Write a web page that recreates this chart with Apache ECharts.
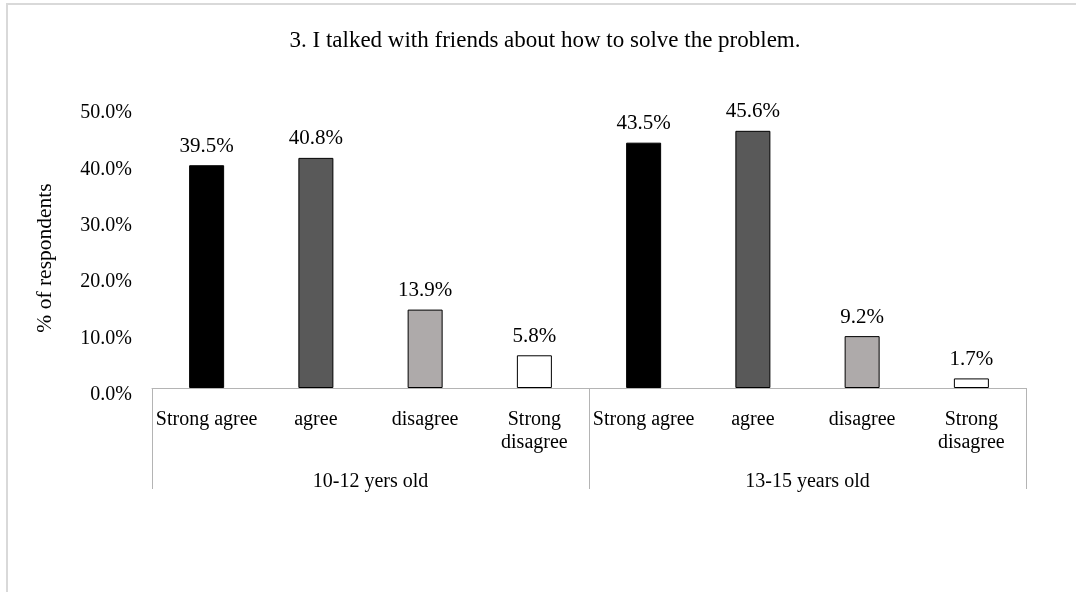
<!DOCTYPE html>
<html>
<head>
<meta charset="utf-8">
<script src="https://cdn.jsdelivr.net/npm/echarts@6/dist/echarts.min.js"></script>
<style>
  html, body { margin: 0; padding: 0; background: #ffffff; }
  #chart { width: 1076px; height: 592px; }
</style>
</head>
<body>
<div id="chart"></div>
<script>
// Survey responses, percentage of respondents per answer, by age group
const chartTitle = '3. I talked with friends about how to solve the problem.';
const axisName = '% of respondents';
const groups = ['10-12 yers old', '13-15 years old'];
const answers = ['Strong agree', 'agree', 'disagree', 'Strong disagree'];
const ages10to12 = [39.5, 40.8, 13.9, 5.8];
const ages13to15 = [43.5, 45.6, 9.2, 1.7];
const answerColors = ['#000000', '#595959', '#aeaaaa', '#ffffff'];

const FONT = '"Liberation Serif", "Times New Roman", serif';

// Flatten into one category per (group, answer) pair
const categories = [];
const values = [];
[ages10to12, ages13to15].forEach(function (vals) {
  answers.forEach(function (a, i) {
    categories.push(a);
    values.push({
      value: vals[i],
      itemStyle: { color: answerColors[i] }
    });
  });
});

const chart = echarts.init(document.getElementById('chart'), null, { renderer: 'canvas' });

chart.setOption({
  backgroundColor: '#ffffff',
  animation: false,
  graphic: [
    {
      type: 'rect',
      shape: { x: 7, y: 4, width: 1200, height: 700 },
      style: { fill: 'none', stroke: '#d9d9d9', lineWidth: 2 },
      silent: true
    },
    {
      type: 'text',
      x: 545,
      y: 41,
      style: {
        text: chartTitle,
        fontFamily: FONT,
        fontSize: 23,
        fill: '#000000',
        textAlign: 'center',
        textVerticalAlign: 'middle'
      }
    },
    {
      type: 'text',
      x: 45,
      y: 258,
      rotation: Math.PI / 2,
      style: {
        text: axisName,
        fontFamily: FONT,
        fontSize: 21.5,
        fill: '#000000',
        textAlign: 'center',
        textVerticalAlign: 'middle'
      }
    }
  ],
  grid: { left: 152, right: 50, top: 106, bottom: 204, containLabel: false },
  xAxis: [
    {
      type: 'category',
      data: categories,
      position: 'bottom',
      axisLine: { show: true, lineStyle: { color: '#b4b4b4', width: 1 } },
      axisTick: { show: false },
      axisLabel: {
        interval: 0,
        margin: 20,
        fontFamily: FONT,
        fontSize: 20,
        lineHeight: 23,
        color: '#000000',
        formatter: function (v) { return v === 'Strong disagree' ? 'Strong\ndisagree' : v; }
      }
    },
    {
      type: 'category',
      data: groups,
      position: 'bottom',
      axisLine: { show: false },
      axisTick: { show: true, length: 101, lineStyle: { color: '#b4b4b4', width: 1 } },
      axisLabel: {
        interval: 0,
        margin: 82,
        fontFamily: FONT,
        fontSize: 20,
        lineHeight: 23,
        color: '#000000'
      }
    }
  ],
  yAxis: {
    type: 'value',
    min: 0,
    max: 50,
    interval: 10,
    axisLine: { show: false },
    axisTick: { show: false },
    splitLine: { show: false },
    axisLabel: {
      margin: 20,
      fontFamily: FONT,
      fontSize: 20,
      color: '#000000',
      verticalAlign: 'top',
      lineHeight: 14,
      formatter: function (v) { return v.toFixed(1) + '%'; }
    }
  },
  series: [
    {
      type: 'bar',
      xAxisIndex: 0,
      data: values,
      barWidth: 35,
      itemStyle: { borderColor: '#000000', borderWidth: 1 },
      label: {
        show: true,
        position: 'top',
        distance: 9,
        fontFamily: FONT,
        fontSize: 21,
        lineHeight: 20,
        color: '#000000',
        formatter: function (p) { return p.value.toFixed(1) + '%'; }
      }
    }
  ]
});
</script>
</body>
</html>
